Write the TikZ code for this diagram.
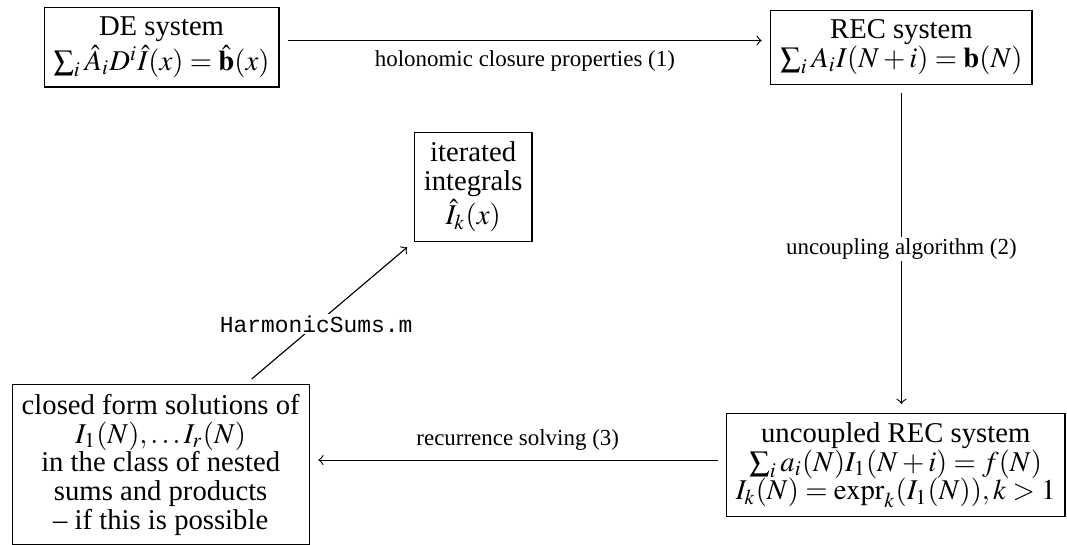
\documentclass[tikz,border=0pt]{standalone}
\usepackage{mathptmx}
\usepackage{fontspec}
\setmainfont{Liberation Serif}
\setmonofont{Liberation Mono}
\usepackage{amsmath}
\usetikzlibrary{positioning, calc}

\begin{document}
\begin{tikzpicture}[
  box/.style={draw, align=center, inner sep=3.3pt, font=\fontsize{10}{10}\selectfont},
  conn/.style={->, shorten <=2.8pt, shorten >=3pt},
  lbl/.style={font=\footnotesize},
  onlbl/.style={font=\footnotesize, fill=white, inner sep=0.5pt}]
  \useasboundingbox (0, 0) rectangle (13.08, 6.67);

  % Boxes
  \node[box] (de) at (1.98, 6.09) {DE system\\ $\sum_i \hat{A}_i D^i \hat{I}(x) = \hat{\mathbf{b}}(x)$};
  \node[box] (rec) at (11.05, 6.09) {REC system\\ $\sum_i A_i I(N+i) = \mathbf{b}(N)$};
  \node[box] (iter) at (5.80, 4.38) {iterated\\ integrals\\ $\hat{I}_k(x)$};
  \node[box] (uncoupled) at (10.98, 0.97) {uncoupled REC system\\ $\sum_i a_i(N) I_1(N+i) = f(N)$\\ $I_k(N) = \mathrm{expr}_k(I_1(N)), k>1$};
  \node[box, anchor=north] (closed) at (1.97, 1.96) {closed form solutions of\\ $I_1(N),\dots I_r(N)$\\ in the class of nested\\ sums and products\\ -- if this is possible};

  % Arrows
  \draw[conn] ([yshift=0.083cm]de.east) -- ([yshift=0.083cm]rec.west)
    node[lbl, midway, below] {holonomic closure properties (1)};
  \draw[conn] (rec.south) -- (rec.south |- uncoupled.north)
    node[onlbl, midway] {uncoupling algorithm (2)};
  \draw[conn] ([yshift=0.06cm]uncoupled.west) -- ([yshift=0.06cm]uncoupled.west -| closed.east)
    node[lbl, midway, above] {recurrence solving (3)};
  \draw[conn] ([xshift=1.04cm]closed.north) -- (iter.south west)
    node[onlbl, pos=0.42, font=\footnotesize\ttfamily] {HarmonicSums.m};
\end{tikzpicture}
\end{document}
